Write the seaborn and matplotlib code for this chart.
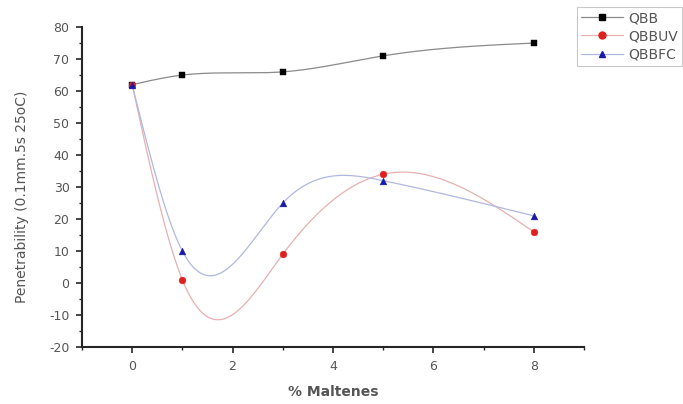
import numpy as np
import pandas as pd
import matplotlib
matplotlib.use("Agg")
import matplotlib.pyplot as plt
import seaborn as sns
from matplotlib.ticker import MultipleLocator

maltenes = [0, 1, 3, 5, 8]
qbb = [62, 65, 66, 71, 75]
qbbuv = [62, 1, 9, 34, 16]
qbbfc = [62, 10, 25, 32, 21]
series_names = ["QBB", "QBBUV", "QBBFC"]

sns.set_style("ticks")
plt.rcParams['font.family'] = ['DejaVu Sans']
plt.rcParams['axes.unicode_minus'] = False


def natural_spline(x, y, n=200):
    x = np.asarray(x, float)
    y = np.asarray(y, float)
    k = len(x)
    h = np.diff(x)
    A = np.zeros((k, k))
    b = np.zeros(k)
    A[0, 0] = A[-1, -1] = 1
    for i in range(1, k - 1):
        A[i, i - 1] = h[i - 1]
        A[i, i] = 2 * (h[i - 1] + h[i])
        A[i, i + 1] = h[i]
        b[i] = 6 * ((y[i + 1] - y[i]) / h[i] - (y[i] - y[i - 1]) / h[i - 1])
    M = np.linalg.solve(A, b)
    xs = np.linspace(x[0], x[-1], n)
    ys = np.empty_like(xs)
    for j, xv in enumerate(xs):
        i = min(np.searchsorted(x, xv, side="right") - 1, k - 2)
        t1 = x[i + 1] - xv
        t0 = xv - x[i]
        ys[j] = (M[i] * t1 ** 3 + M[i + 1] * t0 ** 3) / (6 * h[i]) \
            + (y[i] / h[i] - M[i] * h[i] / 6) * t1 \
            + (y[i + 1] / h[i] - M[i + 1] * h[i] / 6) * t0
    return xs, ys


fig = plt.figure(figsize=(6.83, 4.04), dpi=100)
ax = fig.add_axes([0.120, 0.141, 0.735, 0.792])

styles = {
    "QBB": dict(color="black", marker="s", line="#8a8a8a"),
    "QBBUV": dict(color="#e0201e", marker="o", line="#e8b0b0"),
    "QBBFC": dict(color="#1a1aa8", marker="^", line="#b0b8e0"),
}

for name, vals in zip(series_names, [qbb, qbbuv, qbbfc]):
    st = styles[name]
    xs, ys = natural_spline(maltenes, vals)
    ax.plot(xs, ys, color=st["line"], lw=0.9, zorder=2)
    df = pd.DataFrame({"x": maltenes, "y": vals})
    sns.scatterplot(data=df, x="x", y="y", ax=ax, marker=st["marker"],
                    color=st["color"], s=24, edgecolor=st["color"],
                    linewidth=0.3, zorder=3)

ax.set_xlim(-1, 9)
ax.set_ylim(-20, 80)
ax.xaxis.set_major_locator(MultipleLocator(2))
ax.xaxis.set_minor_locator(MultipleLocator(1))
ax.yaxis.set_major_locator(MultipleLocator(10))
ax.yaxis.set_minor_locator(MultipleLocator(5))
ax.tick_params(which="major", length=4, width=1.2, labelsize=9,
               labelcolor="#555555", direction="out", pad=5)
ax.tick_params(which="minor", length=2.5, width=1.0, direction="out")
for s in ["left", "bottom"]:
    ax.spines[s].set_linewidth(1.5)
sns.despine(ax=ax)

ax.set_xlabel("% Maltenes", fontsize=10, fontweight="bold", color="#555555",
              labelpad=9)
ax.set_ylabel("Penetrability (0.1mm.5s 25oC)", fontsize=10, color="#555555")
ax.yaxis.set_label_coords(-0.106, 0.47)

handles = []
for name in series_names:
    st = styles[name]
    h, = ax.plot([], [], color=st["line"], lw=0.9, marker=st["marker"],
                 markerfacecolor=st["color"], markeredgecolor=st["color"],
                 markersize=5)
    handles.append(h)
leg = fig.legend(handles, series_names, loc="upper left",
                 bbox_to_anchor=(0.845, 0.983), fontsize=10,
                 frameon=True, fancybox=False, handlelength=3.0,
                 borderpad=0.3, labelspacing=0.3, handletextpad=0.4,
                 borderaxespad=0)
leg.get_frame().set_edgecolor("#bbbbbb")
leg.get_frame().set_linewidth(0.8)
for t in leg.get_texts():
    t.set_color("#555555")

fig.savefig("out.png", dpi=100)
